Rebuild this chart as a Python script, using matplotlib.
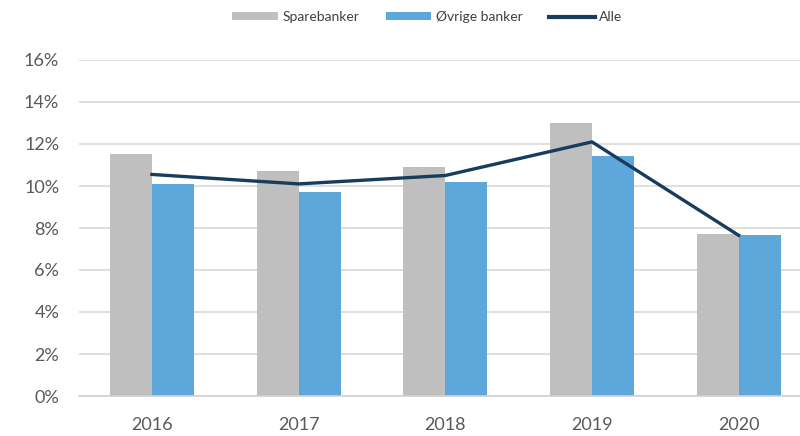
import matplotlib
matplotlib.use('Agg')

import matplotlib.pyplot as plt
import numpy as np
from matplotlib.ticker import FuncFormatter

plt.rcParams['font.family'] = ['Lato', 'DejaVu Sans']

years = ['2016', '2017', '2018', '2019', '2020']
sparebanker = [11.5, 10.7, 10.9, 13.0, 7.7]
ovrige = [10.1, 9.7, 10.2, 11.45, 7.65]
alle = [10.55, 10.1, 10.5, 12.1, 7.65]

x = np.arange(len(years))
w = 0.286

fig = plt.figure(figsize=(8, 4.36), dpi=100)
ax = fig.add_axes([78.6 / 800, 40 / 436, 733.4 / 800, 336 / 436])

b1 = ax.bar(x - w / 2, sparebanker, w, color='#bfbfbf', label='Sparebanker', zorder=2)
b2 = ax.bar(x + w / 2, ovrige, w, color='#5ea7da', label='Øvrige banker', zorder=2)
l1, = ax.plot(x, alle, color='#173c5e', linewidth=2.4, label='Alle', zorder=3)

ax.set_xlim(-0.5, len(years) - 0.5)
ax.set_ylim(0, 16)
ax.set_yticks(range(0, 17, 2))
ax.yaxis.set_major_formatter(FuncFormatter(lambda v, p: f'{v:.0f}%'))
ax.set_xticks(x)
ax.set_xticklabels(years)
ax.grid(axis='y', color='#d9d9d9', linewidth=1.2, zorder=0)
ax.set_axisbelow(True)

for s in ['top', 'right', 'left']:
    ax.spines[s].set_visible(False)
ax.spines['bottom'].set_color('#d0d0d0')
ax.spines['bottom'].set_linewidth(1.2)
ax.tick_params(axis='both', length=0, labelsize=13, colors='#595959')
ax.tick_params(axis='y', pad=14)
ax.tick_params(axis='x', pad=15)

leg = fig.legend([b1, b2, l1], ['Sparebanker', 'Øvrige banker', 'Alle'],
                 loc='center', bbox_to_anchor=(0.534, 1 - 17 / 436), ncol=3, frameon=False,
                 fontsize=10, handlelength=3.3, handleheight=0.45, columnspacing=1.9,
                 handletextpad=0.3, labelcolor='#404040')
leg.get_lines()[0].set_linewidth(3)

fig.savefig('out.png', dpi=100)
